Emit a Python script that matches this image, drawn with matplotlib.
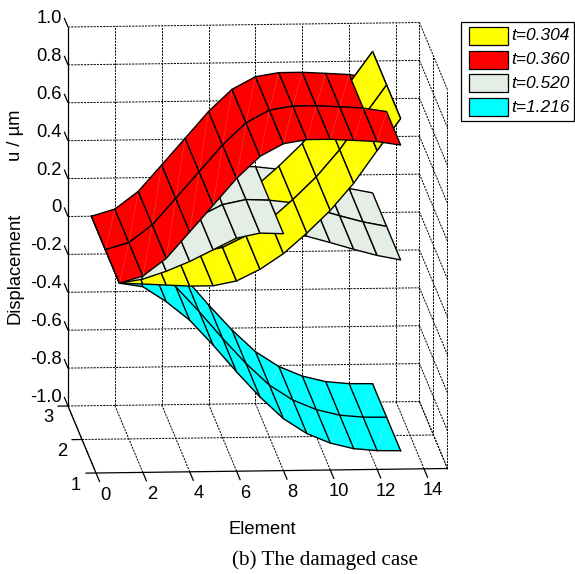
import numpy as np
import matplotlib
matplotlib.use("Agg")
import matplotlib.pyplot as plt
from matplotlib.patches import Polygon, Rectangle

plt.rcParams["font.family"] = ["Liberation Sans", "DejaVu Sans"]

elements = [1, 2, 3, 4, 5, 6, 7, 8, 9, 10, 11, 12, 13]
rows = [1, 2, 3]
u_yellow = [0, -0.006, -0.013, -0.02, -0.02, 0.004, 0.064, 0.145, 0.252, 0.37, 0.512, 0.683, 0.85]
u_red = [0, 0.036, 0.128, 0.266, 0.405, 0.545, 0.66, 0.725, 0.745, 0.745, 0.738, 0.73, 0.71]
u_grey = [0, 0.02, 0.06, 0.11, 0.17, 0.23, 0.255, 0.25, 0.235, 0.2, 0.163, 0.129, 0.104]
u_cyan = [0, -0.02, -0.101, -0.2, -0.333, -0.476, -0.61, -0.726, -0.806, -0.858, -0.889, -0.901, -0.903]

x_ticks = [0, 2, 4, 6, 8, 10, 12, 14]
y_ticks = [1, 2, 3]
z_ticks = [-1.0, -0.8, -0.6, -0.4, -0.2, 0, 0.2, 0.4, 0.6, 0.8, 1.0]
z_labels = ["-1.0", "-0.8", "-0.6", "-0.4", "-0.2", "0", "0.2", "0.4", "0.6", "0.8", "1.0"]
legend_labels = ["t=0.304", "t=0.360", "t=0.520", "t=1.216"]

YELLOW = "#ffff00"
RED = "#ff0000"
GREY = "#e4eee4"
CYAN = "#00ffff"
FS = 13.2


def project(x, y, z):
    # oblique view, same as the matlab plot3 box
    sx = 68 + 23.43 * x + 14.0 * (3 - y)
    sy = 406 - 0.3 * x + 33.5 * (3 - y) - 189.5 * (z + 1)
    return sx, sy


fig = plt.figure(figsize=(5.75, 5.74), dpi=100)
ax = fig.add_axes([0, 0, 1, 1])
ax.set_xlim(0, 575)
ax.set_ylim(574, 0)
ax.axis("off")


def line3(p, q, **kw):
    a, b = project(*p), project(*q)
    ax.plot([a[0], b[0]], [a[1], b[1]], solid_capstyle="butt", **kw)


grid = dict(color="black", lw=0.7, ls=(0, (2.2, 1.1)), zorder=1)
solid = dict(color="black", lw=0.9, zorder=2)

# back wall and right wall
for z in z_ticks:
    line3((0, 3, z), (15, 3, z), **grid)
    line3((15, 3, z), (15, 1, z), **grid)
for x in x_ticks + [15]:
    line3((x, 3, -1), (x, 3, 1), **grid)
for y in [2, 1]:
    line3((15, y, -1), (15, y, 1), **grid)
# floor
for x in x_ticks + [15]:
    line3((x, 3, -1), (x, 1, -1), **grid)
line3((0, 2, -1), (15, 2, -1), **grid)

# box edges and ticks
line3((0, 3, -1), (0, 3, 1), **solid)
line3((0, 3, -1), (0, 1, -1), **solid)
line3((0, 1, -1), (15, 1, -1), **solid)
for x in x_ticks:
    line3((x, 1, -1), (x, 0.73, -1), **solid)
for y in y_ticks:
    line3((0, y, -1), (-0.45, y, -1), **solid)
for z in z_ticks:
    line3((0, 3, z), (0, 3.27, z), **solid)

order = [10]


def draw_cells(u, color, row_ids, cols):
    # painter order matters here, each call stacks above the previous one
    for r in row_ids:
        for c in cols:
            y0, y1 = rows[r], rows[r + 1]
            x0, x1 = elements[c], elements[c + 1]
            corners = [
                project(x0, y0, u[c]),
                project(x1, y0, u[c + 1]),
                project(x1, y1, u[c + 1]),
                project(x0, y1, u[c]),
            ]
            order[0] += 1
            ax.add_patch(Polygon(corners, closed=True, fc=color, ec="black", lw=1.0,
                                 joinstyle="round", zorder=order[0]))
            seam = np.array([corners[0], corners[2]])
            ax.plot(seam[:, 0], seam[:, 1], color="white", lw=0.4, alpha=0.25, zorder=order[0] + 0.5)


ncell = len(elements) - 1
left = list(range(0, 7))
right = list(range(7, ncell))
last = [ncell - 1]

# cyan: fill first then all mesh lines so the folded rows show through
for r in range(2):
    for c in range(ncell):
        cs = [project(elements[c], rows[r], u_cyan[c]), project(elements[c + 1], rows[r], u_cyan[c + 1]),
              project(elements[c + 1], rows[r + 1], u_cyan[c + 1]), project(elements[c], rows[r + 1], u_cyan[c])]
        ax.add_patch(Polygon(cs, closed=True, fc=CYAN, ec=CYAN, lw=0.3, zorder=3))
        seam = np.array([cs[0], cs[2]])
        ax.plot(seam[:, 0], seam[:, 1], color="white", lw=0.4, alpha=0.3, zorder=3.5)
for y in rows:
    pts = np.array([project(x, y, u) for x, u in zip(elements, u_cyan)])
    ax.plot(pts[:, 0], pts[:, 1], color="black", lw=1.0, zorder=4)
for x, u in zip(elements, u_cyan):
    pts = np.array([project(x, y, u) for y in rows])
    ax.plot(pts[:, 0], pts[:, 1], color="black", lw=1.0, zorder=4)

draw_cells(u_grey, GREY, [1], right)
draw_cells(u_yellow, YELLOW, [1], right)
draw_cells(u_grey, GREY, [0], right)
draw_cells(u_yellow, YELLOW, [1], left)
draw_cells(u_yellow, YELLOW, [0], left + right)
draw_cells(u_grey, GREY, [1, 0], left)
draw_cells(u_red, RED, [1], last)
draw_cells(u_yellow, YELLOW, [1, 0], last)
draw_cells(u_red, RED, [1], list(range(ncell - 1)))
draw_cells(u_red, RED, [0], list(range(ncell)))

# tick labels
for z, lab in zip(z_ticks, z_labels):
    sx, sy = project(0, 3, z)
    ax.text(sx - 6, sy - 8.5, lab, ha="right", va="center", fontsize=FS, zorder=60)
for x in x_ticks:
    sx, sy = project(x, 1, -1)
    ax.text(sx + 9, sy + 22, str(x), ha="center", va="center", fontsize=FS, zorder=60)
for y in y_ticks:
    sx, sy = project(0, y, -1)
    ax.text(sx - 20, sy + 12, str(y), ha="center", va="center", fontsize=FS, zorder=60)

ax.text(262, 529, "Element", ha="center", va="center", fontsize=FS)
ax.text(15, 135, "u / \u00b5m", ha="center", va="center", rotation=90, fontsize=FS)
ax.text(15, 268, "Displacement", ha="center", va="center", rotation=90, fontsize=FS)
ax.text(325.5, 560, "(b) The damaged case", ha="center", va="center", fontsize=15.2,
        family="Liberation Serif")

# legend box placed by hand, the matlab one has uneven padding
ax.add_patch(Rectangle((461, 22), 113, 99, fc="white", ec="black", lw=0.9, zorder=70))
for i, (lab, col) in enumerate(zip(legend_labels, [YELLOW, RED, GREY, CYAN])):
    top = 27 + 23.7 * i
    ax.add_patch(Rectangle((469, top), 39, 18, fc=col, ec="black", lw=0.9, zorder=71))
    ax.text(511, top + 9, lab, ha="left", va="center", fontsize=12.5, fontstyle="italic", zorder=71)

fig.savefig("out.png", dpi=100)
